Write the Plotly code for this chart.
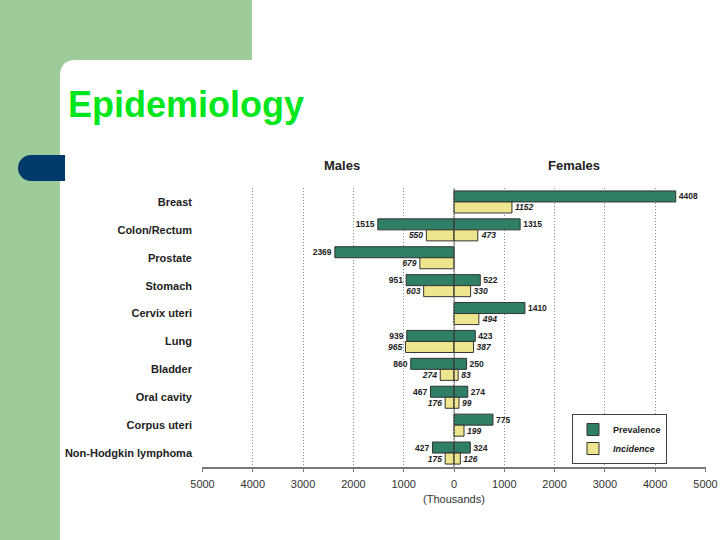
import plotly.graph_objects as go

categories = ["Breast", "Colon/Rectum", "Prostate", "Stomach", "Cervix uteri",
              "Lung", "Bladder", "Oral cavity", "Corpus uteri", "Non-Hodgkin lymphoma"]
male_prevalence = [None, 1515, 2369, 951, None, 939, 860, 467, None, 427]
male_incidence = [None, 550, 679, 603, None, 965, 274, 176, None, 175]
female_prevalence = [4408, 1315, None, 522, 1410, 423, 250, 274, 775, 324]
female_incidence = [1152, 473, None, 330, 494, 387, 83, 99, 199, 126]
tick_values = [-5000, -4000, -3000, -2000, -1000, 0, 1000, 2000, 3000, 4000, 5000]
tick_labels = ["5000", "4000", "3000", "2000", "1000", "0", "1000", "2000", "3000", "4000", "5000"]

PREV_COLOR = "#2E7F66"
INC_COLOR = "#EEE68E"
FONT = "Liberation Sans, Arial, sans-serif"

# plot area in pixels
L, R, T, B = 202, 706, 188, 467
W, H = R - L, B - T


def px(x):
    return (x - L) / W


def py(y):
    return (B - y) / H


def neg(vals):
    return [(-v if v is not None else None) for v in vals]


def txt(vals):
    return [(str(v) if v is not None else "") for v in vals]


fig = go.Figure()

common = dict(orientation="h", y=categories, textposition="outside",
              constraintext="none", cliponaxis=False, hoverinfo="skip")

fig.add_trace(go.Bar(x=neg(male_prevalence), text=txt(male_prevalence), name="Prevalence",
                     offsetgroup="p", legendgroup="p", showlegend=True,
                     marker=dict(color=PREV_COLOR, line=dict(color="#333333", width=1)),
                     textfont=dict(size=8.5, color="#222222", family=FONT, weight="bold"),
                     **common))
fig.add_trace(go.Bar(x=female_prevalence, text=txt(female_prevalence), name="Prevalence",
                     offsetgroup="p", legendgroup="p", showlegend=False,
                     marker=dict(color=PREV_COLOR, line=dict(color="#333333", width=1)),
                     textfont=dict(size=8.5, color="#222222", family=FONT, weight="bold"),
                     **common))
fig.add_trace(go.Bar(x=neg(male_incidence), text=txt(male_incidence), name="<i>Incidence</i>",
                     offsetgroup="i", legendgroup="i", showlegend=True,
                     marker=dict(color=INC_COLOR, line=dict(color="#333333", width=1)),
                     textfont=dict(size=8.5, color="#222222", family=FONT, weight="bold", style="italic"),
                     **common))
fig.add_trace(go.Bar(x=female_incidence, text=txt(female_incidence), name="<i>Incidence</i>",
                     offsetgroup="i", legendgroup="i", showlegend=False,
                     marker=dict(color=INC_COLOR, line=dict(color="#333333", width=1)),
                     textfont=dict(size=8.5, color="#222222", family=FONT, weight="bold", style="italic"),
                     **common))

GREEN_BG = "#9DCB9A"
shapes = [
    dict(type="rect", xref="paper", yref="paper", x0=px(-10), x1=px(252), y0=py(-10), y1=py(80),
         fillcolor=GREEN_BG, line=dict(width=0), layer="below"),
    dict(type="rect", xref="paper", yref="paper", x0=px(-10), x1=px(60), y0=py(-10), y1=py(550),
         fillcolor=GREEN_BG, line=dict(width=0), layer="below"),
    dict(type="path", xref="paper", yref="paper",
         path=(f"M {px(60)},{py(82)} L {px(60)},{py(76)} Q {px(60)},{py(60)} {px(76)},{py(60)} "
               f"L {px(252)},{py(60)} L {px(252)},{py(82)} Z"),
         fillcolor="white", line=dict(width=0), layer="below"),
    dict(type="circle", xref="paper", yref="paper", x0=px(18), x1=px(44), y0=py(181), y1=py(155),
         fillcolor="#003A6B", line=dict(width=0), layer="below"),
    dict(type="rect", xref="paper", yref="paper", x0=px(31), x1=px(65), y0=py(181), y1=py(155),
         fillcolor="#003A6B", line=dict(width=0), layer="below"),
    # zero reference line drawn over the bars
    dict(type="line", xref="x", yref="paper", x0=0, x1=0, y0=0, y1=1,
         line=dict(color="#444444", width=1, dash="2px,1px"), layer="above"),
]

annotations = [
    dict(text="<b>Epidemiology</b>", x=px(66), y=py(105), xref="paper", yref="paper",
         xanchor="left", yanchor="middle", showarrow=False,
         font=dict(size=36, color="#00E61E", family=FONT)),
    dict(text="<b>Males</b>", x=px(342), y=py(166), xref="paper", yref="paper",
         xanchor="center", yanchor="middle", showarrow=False,
         font=dict(size=13, color="#222222", family=FONT)),
    dict(text="<b>Females</b>", x=px(574), y=py(165), xref="paper", yref="paper",
         xanchor="center", yanchor="middle", showarrow=False,
         font=dict(size=13, color="#222222", family=FONT)),
]

fig.update_layout(
    width=720, height=540,
    margin=dict(l=L, r=720 - R, t=T, b=540 - B, autoexpand=False),
    paper_bgcolor="white", plot_bgcolor="white",
    barmode="group", bargap=0.21, bargroupgap=0,
    font=dict(family=FONT, color="#222222"),
    shapes=shapes, annotations=annotations,
    legend=dict(x=px(572), y=py(414), xanchor="left", yanchor="top",
                bordercolor="#444444", borderwidth=1, bgcolor="white",
                font=dict(size=9, family=FONT, color="#222222", weight="bold"),
                traceorder="normal", itemwidth=30, tracegroupgap=0),
    xaxis=dict(range=[-5010, 5010], tickvals=tick_values, ticktext=tick_labels,
               automargin=False,
               showgrid=True, gridcolor="#8A8A8A", griddash="1px,2px", gridwidth=1,
               zeroline=False, showline=True, linecolor="#777777", linewidth=2,
               ticks="outside", ticklen=3, tickcolor="#777777", ticklabelstandoff=3,
               tickfont=dict(size=11, color="#333333", family=FONT),
               title=dict(text="(Thousands)", font=dict(size=11, color="#333333", family=FONT),
                          standoff=6)),
    yaxis=dict(autorange="reversed", showgrid=False, zeroline=False, showline=False,
               automargin=False, ticks="", ticklabelstandoff=9,
               tickfont=dict(size=11, color="#222222", family=FONT, weight="bold")),
)

fig.write_html("out.html", config={"displayModeBar": False},
               post_script="document.body.style.margin='0';document.body.style.overflow='hidden';")
